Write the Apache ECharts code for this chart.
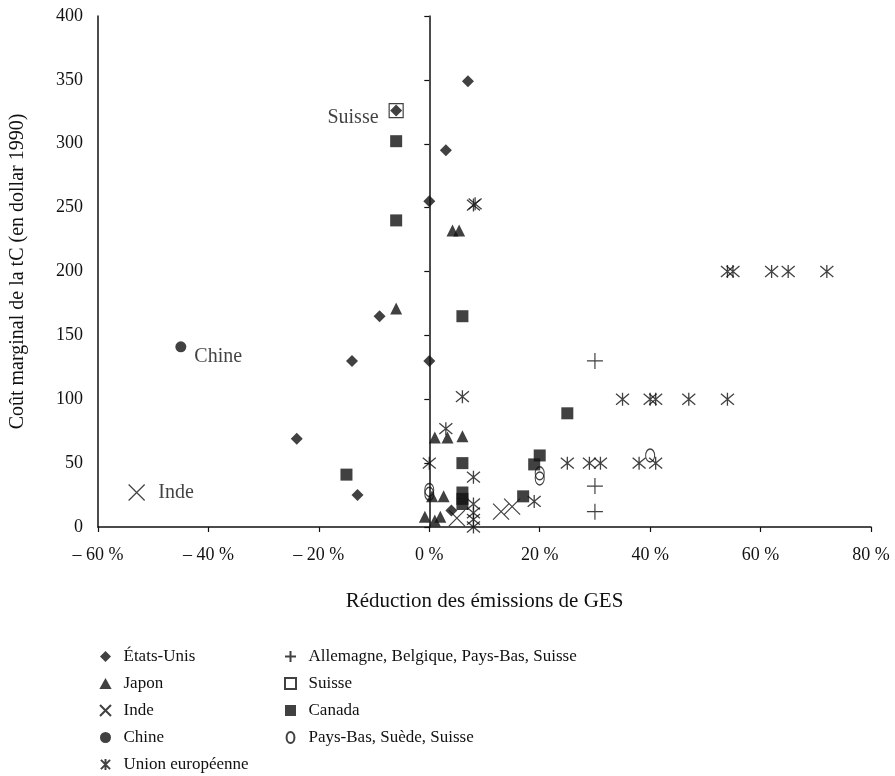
<!DOCTYPE html>
<html><head><meta charset="utf-8">
<script src="https://cdn.jsdelivr.net/npm/echarts@6/dist/echarts.min.js"></script>
<style>html,body{margin:0;padding:0;background:#fff}#c{width:895px;height:776px}</style>
</head><body><div id="c"></div>
<script>
// ---- data ----
var xTicks = [-60, -40, -20, 0, 20, 40, 60, 80];
var yTicks = [0, 50, 100, 150, 200, 250, 300, 350, 400];

var usX = [7, -6, 3, 0, -9, -14, 0, -24, -13, 4];
var usY = [349, 326, 295, 255, 165, 130, 130, 69, 25, 13];

var japonX = [4.2, 5.4, -6, 1, 3.3, 6, 0.5, 2.6, -0.8, 1, 2];
var japonY = [232, 232, 171, 70, 70, 71, 24, 24, 8, 5, 8];

var indeX = [-53, 5, 13, 15];
var indeY = [27, 7, 12, 16];

var chineX = [-45];
var chineY = [141];

var ueX = [8, 8.3, 6, 3, 0, 8, 25, 19, 8, 8, 8, 8,
           54, 55, 62, 65, 72,
           35, 40, 41, 47, 54,
           29, 31, 38, 41];
var ueY = [252, 253, 102, 77, 50, 39, 50, 20, 18, 11, 6, 0,
           200, 200, 200, 200, 200,
           100, 100, 100, 100, 100,
           50, 50, 50, 50];

var allemX = [30, 30, 30];
var allemY = [130, 32, 12];

var suisseX = [-6];
var suisseY = [326];

var canadaX = [-6, -6, 6, 25, 6, 20, 19, 17, 6, 6, 6, -15];
var canadaY = [302, 240, 165, 89, 50, 56, 49, 24, 27, 22, 18, 41];

var pbX = [20, 20, 40, 0, 0];
var pbY = [42, 38, 56, 29, 26];

var seriesNames = ['États-Unis', 'Japon', 'Inde', 'Chine', 'Union européenne',
                   'Allemagne, Belgique, Pays-Bas, Suisse', 'Suisse', 'Canada', 'Pays-Bas, Suède, Suisse'];
var pointLabels = { inde: 'Inde', chine: 'Chine', suisse: 'Suisse' };

// ---- build ----
function pairs(xs, ys) { return xs.map(function (x, i) { return [x, ys[i]]; }); }
var FONT = 'Liberation Serif';
var INK = '#111';

var SYM_DIAM = 'path://M5,0L10,5L5,10L0,5Z';
var SYM_TRI = 'path://M5,0L10,9L0,9Z';
var SYM_SQ = 'path://M0,0L10,0L10,10L0,10Z';
var SYM_X = 'path://M0,0L10,10M10,0L0,10';
var SYM_AST = 'path://M0,0L10,10M10,0L0,10M5,-1L5,11';
var SYM_PLUS = 'path://M5,0L5,10M0,5L10,5';
var SYM_ELL = 'path://M5,0C7.76,0 10,3.14 10,7C10,10.86 7.76,14 5,14C2.24,14 0,10.86 0,7C0,3.14 2.24,0 5,0Z';

var lblStyle = { color: INK, fontFamily: FONT, fontSize: 20 };

var indeData = pairs(indeX, indeY);
indeData[0] = { value: indeData[0], label: Object.assign({ show: true, formatter: pointLabels.inde, position: 'right', distance: 13 }, lblStyle) };
var chineData = pairs(chineX, chineY);
chineData[0] = { value: chineData[0], label: Object.assign({ show: true, formatter: pointLabels.chine, position: 'right', distance: 8, offset: [0, 10] }, lblStyle) };
var suisseData = pairs(suisseX, suisseY);
suisseData[0] = { value: suisseData[0], label: Object.assign({ show: true, formatter: pointLabels.suisse, position: 'left', distance: 10, offset: [0, 7] }, lblStyle) };

function filled(sym, size) { return { type: 'scatter', symbol: sym, symbolSize: size, itemStyle: { color: INK }, emphasis: { disabled: true } }; }
function stroked(sym, size, w) { return { type: 'scatter', symbol: sym, symbolSize: size, itemStyle: { color: 'rgba(0,0,0,0)', borderColor: INK, borderWidth: w }, emphasis: { disabled: true } }; }

var series = [
  Object.assign(filled(SYM_DIAM, 12), { name: seriesNames[0], data: pairs(usX, usY), z: 5 }),
  Object.assign(filled(SYM_TRI, 12), { name: seriesNames[1], data: pairs(japonX, japonY) }),
  Object.assign(stroked(SYM_X, 16, 1.2), { name: seriesNames[2], data: indeData }),
  Object.assign(filled('circle', 11), { name: seriesNames[3], data: chineData }),
  Object.assign(stroked(SYM_AST, 13, 1.3), { name: seriesNames[4], data: pairs(ueX, ueY) }),
  Object.assign(stroked(SYM_PLUS, 16, 1.2), { name: seriesNames[5], data: pairs(allemX, allemY) }),
  Object.assign(stroked(SYM_SQ, 14, 1.2), { name: seriesNames[6], data: suisseData, z: 4 }),
  Object.assign(filled(SYM_SQ, 12), { name: seriesNames[7], data: pairs(canadaX, canadaY) }),
  Object.assign(stroked(SYM_ELL, [9, 13], 1.2), { name: seriesNames[8], data: pairs(pbX, pbY) })
];

var legendText = { color: INK, fontFamily: FONT, fontSize: 17 };
var legendCommon = { orient: 'vertical', top: 648, padding: 0, height: 128,
  itemWidth: 26, itemHeight: 11, itemGap: 10, selectedMode: false, symbolKeepAspect: true, textStyle: legendText };

var chart = echarts.init(document.getElementById('c'), null, { renderer: 'canvas' });
chart.setOption({
  animation: false,
  backgroundColor: '#fff',
  grid: { left: 97, right: 24, top: 16, bottom: 249, containLabel: false },
  xAxis: {
    type: 'value', min: xTicks[0], max: xTicks[xTicks.length - 1], interval: 20,
    name: 'Réduction des émissions de GES', nameLocation: 'middle', nameGap: 64,
    nameTextStyle: { color: INK, fontFamily: FONT, fontSize: 21 },
    axisLine: { show: true, lineStyle: { color: INK, width: 1.5 } },
    axisTick: { show: true, inside: false, length: 5, lineStyle: { color: INK, width: 1.2 } },
    axisLabel: { color: INK, fontFamily: FONT, fontSize: 18, margin: 19,
      formatter: function (v) { return v < 0 ? '– ' + Math.abs(v) + ' %' : v + ' %'; } },
    splitLine: { show: false }
  },
  yAxis: [{
    type: 'value', min: yTicks[0], max: yTicks[yTicks.length - 1], interval: 50, position: 'left',
    name: 'Coût marginal de la tC (en dollar 1990)', nameLocation: 'middle', nameGap: 70,
    nameTextStyle: { color: INK, fontFamily: FONT, fontSize: 20 },
    axisLine: { show: true, onZero: false, lineStyle: { color: INK, width: 1.5 } },
    axisTick: { show: false },
    axisLabel: { color: INK, fontFamily: FONT, fontSize: 18, margin: 15 },
    splitLine: { show: false }
  }, {
    type: 'value', min: yTicks[0], max: yTicks[yTicks.length - 1], interval: 50, position: 'left',
    axisLine: { show: true, onZero: true, lineStyle: { color: INK, width: 1.5 } },
    axisTick: { show: true, inside: false, length: 5, lineStyle: { color: INK, width: 1.2 } },
    axisLabel: { show: false },
    splitLine: { show: false }
  }],
  legend: [
    Object.assign({ data: seriesNames.slice(0, 5), left: 99 }, legendCommon),
    Object.assign({ data: seriesNames.slice(5), left: 284 }, legendCommon)
  ],
  series: series
});
</script>
</body></html>
